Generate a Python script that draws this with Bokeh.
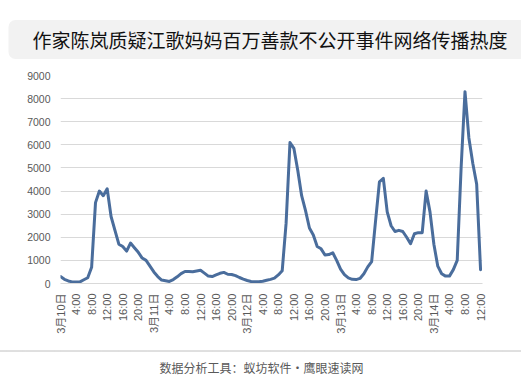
import math
from bokeh.plotting import figure
from bokeh.models import Range1d, FixedTicker, Title
from bokeh.embed import file_html
from bokeh.resources import INLINE

title_text = "作家陈岚质疑江歌妈妈百万善款不公开事件网络传播热度"
footer_text = "数据分析工具：蚁坊软件·鹰眼速读网"

# hourly heat values, 3月10日 0:00 .. 3月14日 12:00
heat = [
    300, 180, 110, 70, 60, 70, 160, 250, 700, 3500,
    4000, 3800, 4100, 2900, 2300, 1700, 1600, 1400, 1750, 1550,
    1350, 1100, 1000, 750, 500, 300, 150, 120, 90, 170,
    290, 430, 520, 520, 510, 540, 570, 450, 320, 300,
    370, 440, 480, 400, 390, 340, 260, 190, 130, 90,
    80, 80, 100, 140, 180, 230, 370, 550, 2600, 6100,
    5850, 4900, 3800, 3150, 2400, 2100, 1600, 1500, 1230, 1250,
    1330, 1000, 620, 380, 240, 180, 170, 220, 420, 720,
    950, 2700, 4400, 4550, 3100, 2500, 2250, 2300, 2250, 2000,
    1720, 2150, 2200, 2200, 4000, 3100, 1700, 750, 420, 320,
    320, 600, 1000, 5000, 8300, 6300, 5200, 4300, 600,
]
hours = list(range(len(heat)))

tick_labels = [
    "3月10日", "4:00", "8:00", "12:00", "16:00", "20:00",
    "3月11日", "4:00", "8:00", "12:00", "16:00", "20:00",
    "3月12日", "4:00", "8:00", "12:00", "16:00", "20:00",
    "3月13日", "4:00", "8:00", "12:00", "16:00", "20:00",
    "3月14日", "4:00", "8:00", "12:00",
]
tick_pos = [i * 4 for i in range(len(tick_labels))]
y_ticks = [0, 1000, 2000, 3000, 4000, 5000, 6000, 7000, 8000, 9000]

p = figure(width=521, height=388, output_backend="svg", toolbar_location=None,
           x_range=Range1d(0, 108.5), y_range=Range1d(0, 9000),
           min_border_left=60, min_border_right=39, min_border_top=75, min_border_bottom=105)
p.outline_line_color = None
p.background_fill_color = "white"
p.border_fill_color = "white"

p.line(hours, heat, line_color="#4a6d9c", line_width=3, line_join="round", line_cap="round")

lab_font = "Liberation Sans, Noto Sans CJK SC"
p.xgrid.grid_line_color = None
p.ygrid.grid_line_color = "#d9d9d9"
p.ygrid.ticker = FixedTicker(ticks=y_ticks)

xa = p.xaxis[0]
xa.ticker = FixedTicker(ticks=tick_pos)
xa.major_label_overrides = {tp: lb for tp, lb in zip(tick_pos, tick_labels)}
xa.major_label_orientation = math.pi / 2
xa.axis_line_color = "#d9d9d9"
xa.major_tick_line_color = None
xa.minor_tick_line_color = None
xa.major_tick_out = 0
xa.major_label_standoff = 10
xa.major_label_text_font = lab_font
xa.major_label_text_font_size = "11px"
xa.major_label_text_color = "#595959"

ya = p.yaxis[0]
ya.ticker = FixedTicker(ticks=y_ticks)
ya.axis_line_color = None
ya.major_tick_line_color = None
ya.minor_tick_line_color = None
ya.major_tick_out = 0
ya.major_label_standoff = 10
ya.major_label_text_font = lab_font
ya.major_label_text_font_size = "10.5px"
ya.major_label_text_color = "#595959"

# title in the "above" panel, drawn with a rounded grey background
p.title = Title(text=title_text, align="left", offset=-52, standoff=33,
                text_font="Noto Sans CJK SC", text_font_size="19px",
                text_font_style="normal", text_color="#111111",
                background_fill_color="#f2f2f2", border_radius=7,
                padding=dict(left=24, right=24, top=6, bottom=6))

# source text below the axis; only the top edge of its wide box is dotted
# (dots along the top edge, then one long gap over the rest of the outline)
rule_dash = " ".join(["1 1"] * 274 + ["1 900"])
footer = Title(text=footer_text, align="left", offset=-70, standoff=25,
               text_font="Noto Sans CJK SC", text_font_size="12px",
               text_font_style="normal", text_color="#595959",
               border_line_color="#808080", border_line_width=1, border_line_dash=rule_dash,
               padding=dict(left=169, right=170, top=8, bottom=0))
p.add_layout(footer, "below")

open("out.html", "w").write(file_html(p, INLINE))
